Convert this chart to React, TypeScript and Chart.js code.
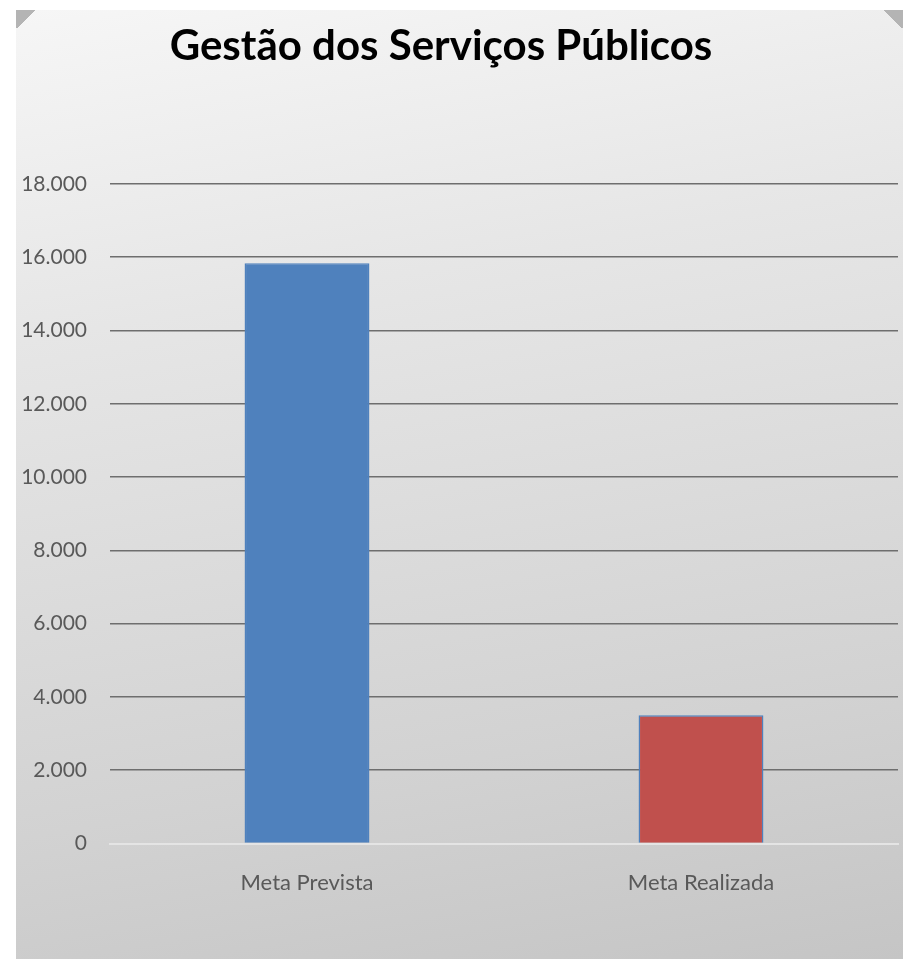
import React, { useEffect, useRef } from "react";
import { Chart, registerables } from "chart.js";

Chart.register(...registerables);

const TITLE = "Gestão dos Serviços Públicos";
const categories = ["Meta Prevista", "Meta Realizada"];
const values = [15840, 3500];
const barColors = ["#4f81bd", "#c0504d"];
const yMax = 18000;
const yStep = 2000;

const FONT = "Lato, 'Open Sans', 'Noto Sans', sans-serif";

const titlePlugin = {
  id: "customTitle",
  afterDraw(chart: any) {
    const o = chart.options.plugins.customTitle;
    if (!o) return;
    const ctx = chart.ctx;
    ctx.save();
    ctx.font = `bold ${o.size}px ${FONT}`;
    ctx.fillStyle = o.color;
    ctx.textAlign = "center";
    ctx.textBaseline = "middle";
    ctx.fillText(o.text, o.x, o.y);
    ctx.restore();
  },
};

function fmt(v: number) {
  return v.toLocaleString("de-DE");
}

export default function App() {
  const ref = useRef<HTMLCanvasElement | null>(null);

  useEffect(() => {
    if (!ref.current) return;
    const chart = new Chart(ref.current, {
      type: "bar",
      data: {
        labels: categories,
        datasets: [
          {
            data: values,
            backgroundColor: barColors,
            borderColor: "#4f81bd",
            borderWidth: 1.5,
            barPercentage: 1,
            categoryPercentage: 0.317,
          },
        ],
      },
      options: {
        animation: false,
        responsive: false,
        maintainAspectRatio: false,
        layout: { padding: { top: 174, right: 5, left: 0, bottom: 0 } },
        plugins: {
          legend: { display: false },
          tooltip: { enabled: false },
          title: { display: false },
          customTitle: { text: TITLE, x: 425, y: 36, size: 42, color: "#000000" },
        } as any,
        scales: {
          x: {
            grid: { display: false },
            border: { display: true, color: "#e4e4e4", width: 2 },
            ticks: {
              color: "#595959",
              font: { family: FONT, size: 22 },
              padding: 18,
            },
            afterFit: (s: any) => {
              s.height = 115.5;
            },
          },
          y: {
            min: 0,
            max: yMax,
            ticks: {
              stepSize: yStep,
              color: "#595959",
              font: { family: FONT, size: 21 },
              padding: 23,
              callback: (v: any) => fmt(Number(v)),
            },
            grid: {
              drawTicks: false,
              lineWidth: 1.6,
              color: (c: any) => (c.tick && c.tick.value === 0 ? "#e4e4e4" : "#6e6e6e"),
            },
            border: { display: false },
            afterFit: (s: any) => {
              s.width = 94;
            },
          },
        },
      },
      plugins: [titlePlugin],
    });
    return () => chart.destroy();
  }, []);

  const corner = (side: "left" | "right") => ({
    position: "absolute" as const,
    top: 0,
    [side]: 0,
    width: 20,
    height: 18,
    background:
      side === "left"
        ? "linear-gradient(135deg, #b4b4b4 50%, transparent 50%)"
        : "linear-gradient(225deg, #b4b4b4 50%, transparent 50%)",
  });

  return (
    <div style={{ position: "absolute", left: 0, top: 0, width: 903, height: 959, background: "#ffffff", overflow: "hidden" }}>
      <div
        style={{
          position: "absolute",
          left: 16,
          top: 10,
          width: 887,
          height: 949,
          background: "linear-gradient(170deg, #f6f6f6 0%, #e6e6e6 30%, #d2d2d2 75%, #c5c5c5 100%)",
        }}
      >
        <canvas ref={ref} width={887} height={949} style={{ display: "block" }} />
        <div style={corner("left")} />
        <div style={corner("right")} />
      </div>
    </div>
  );
}
